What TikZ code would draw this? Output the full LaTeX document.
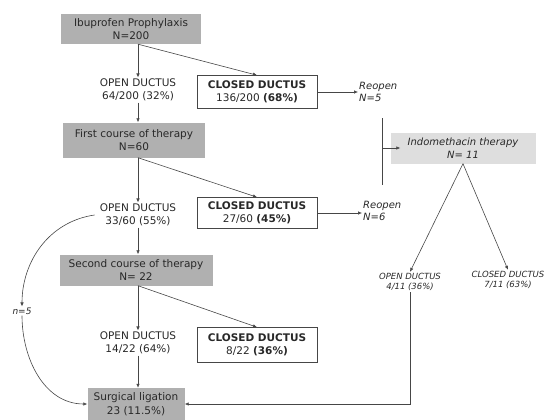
\documentclass[tikz,border=0pt]{standalone}
\usepackage{fontspec}
\setmainfont{DejaVu Sans}
\usepackage{xcolor}
\usepackage{tikz}
\usetikzlibrary{shapes,arrows.meta,positioning}

\begin{document}
\begin{tikzpicture}[x=1pt, y=-1pt,
    font=\fontsize{10.5}{13.5}\selectfont,
    >={Latex[length=4pt,width=3.5pt]},
    graybox/.style={fill=stepgray, text=inkcolor, align=center, inner sep=0pt},
    lightbox/.style={fill=indogray, text=inkcolor, align=center, inner sep=0pt, font=\fontsize{10}{12.5}\selectfont\itshape},
    closedbox/.style={draw=linecolor, fill=white, text=inkcolor, align=center, inner sep=0pt, minimum width=120, line width=0.6pt},
    plaintext/.style={text=inkcolor, align=center, inner sep=1pt},
    smalltext/.style={text=inkcolor, align=center, inner sep=1pt, font=\fontsize{8.5}{10.5}\selectfont\itshape},
    flow/.style={->, draw=linecolor, line width=0.6pt}]
    % Define colors
    \definecolor{stepgray}{RGB}{176,176,176}
    \definecolor{indogray}{RGB}{222,222,222}
    \definecolor{linecolor}{RGB}{70,70,70}
    \definecolor{inkcolor}{RGB}{40,40,40}

    % Canvas
    \useasboundingbox (0,0) rectangle (552,420);

    % Main column
    \node[graybox, minimum width=140, minimum height=30] (ibu) at (131,29) {Ibuprofen Prophylaxis\\N=200};
    \node[plaintext] (open1) at (138,90) {OPEN DUCTUS\\64/200 (32\%)};
    \node[closedbox, minimum height=33] (closed1) at (257,92) {\textbf{CLOSED DUCTUS}\\136/200 \textbf{(68\%)}};
    \node[graybox, minimum width=142, minimum height=35] (first) at (134,140) {First course of therapy\\N=60};
    \node[plaintext] (open2) at (138,215) {OPEN DUCTUS\\33/60 (55\%)};
    \node[closedbox, minimum height=31] (closed2) at (257,213) {\textbf{CLOSED DUCTUS}\\27/60 \textbf{(45\%)}};
    \node[graybox, minimum width=153, minimum height=31] (second) at (136,270) {Second course of therapy\\N= 22};
    \node[plaintext] (open3) at (138,343) {OPEN DUCTUS\\14/22 (64\%)};
    \node[closedbox, minimum height=35] (closed3) at (257,345) {\textbf{CLOSED DUCTUS}\\8/22 \textbf{(36\%)}};
    \node[graybox, minimum width=97, minimum height=32] (surg) at (136,404) {Surgical ligation\\23 (11.5\%)};

    % Reopened ducts
    \node[plaintext, align=left, anchor=west, font=\fontsize{10}{12}\selectfont\itshape] (reopen1) at (358,92) {Reopen\\N=5};
    \node[plaintext, align=left, anchor=west, font=\fontsize{10}{12}\selectfont\itshape] (reopen2) at (362,211) {Reopen\\N=6};
    \coordinate (bartop) at (382,118);
    \coordinate (barbot) at (382,185);

    % Indomethacin branch
    \node[lightbox, minimum width=145, minimum height=31] (indo) at (463,148) {Indomethacin therapy\\N= 11};
    \node[smalltext] (open4) at (410,282) {OPEN DUCTUS\\4/11 (36\%)};
    \node[smalltext] (closed4) at (508,280) {CLOSED DUCTUS\\7/11 (63\%)};
    \node[smalltext, font=\fontsize{9}{10}\selectfont\itshape] (nfive) at (22,311) {n=5};

    % Arrows of the main column
    \draw[flow] (ibu.south -| open1.north) -- (open1.north);
    \draw[flow] (ibu.south -| open1.north) -- (closed1.north);
    \draw[flow] (open1.south) -- (open1.south |- first.north);
    \draw[flow] (first.south -| open2.north) -- (open2.north);
    \draw[flow] (first.south -| open2.north) -- (closed2.north);
    \draw[flow] (open2.south) -- (open2.south |- second.north);
    \draw[flow] (second.south -| open3.north) -- (open3.north);
    \draw[flow] (second.south -| open3.north) -- (closed3.north);
    \draw[flow] (open3.south) -- (open3.south |- surg.north);

    % Reopen arrows and bar
    \draw[flow] (closed1.east) -- (closed1.east -| reopen1.west);
    \draw[flow] (closed2.east) -- (closed2.east -| reopen2.west);
    \draw[linecolor, line width=0.6pt] (bartop) -- (barbot);
    \draw[flow] (bartop |- indo.west) -- ([xshift=10pt]indo.west);

    % Indomethacin outcomes
    \draw[flow] (indo.south) -- (open4.north);
    \draw[flow] (indo.south) -- (closed4.north);
    \draw[flow] (open4.south) |- (surg.east);

    % Side path to ligation
    \draw[flow] ([xshift=-4pt]open2.west) to[out=188, in=90] (nfive.north);
    \draw[flow] (nfive.south) to[out=-90, in=180] (surg.west);
\end{tikzpicture}
\end{document}
